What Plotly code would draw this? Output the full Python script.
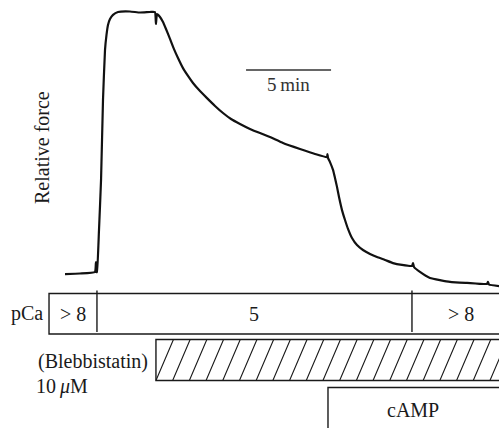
import plotly.graph_objects as go

# ---------------- data ----------------
# force trace (time in minutes, relative force 0..1)
time_min = [0.00, 0.88, 1.76, 1.82, 1.85, 1.88, 2.00, 2.12, 2.235, 2.353, 2.441, 2.529,
            2.647, 2.824, 3.118, 3.82, 4.41, 5.00, 5.29, 5.35, 5.41, 5.588, 5.765,
            5.941, 6.176, 6.412, 6.647, 6.941, 7.235, 7.529, 7.941, 8.353, 8.824,
            9.294, 9.765, 10.294, 10.882, 11.471, 12.059, 12.824, 13.824, 14.706,
            15.412, 15.44, 15.47, 15.588, 15.765, 15.882, 16.0, 16.118, 16.294,
            16.471, 16.647, 16.882, 17.176, 17.529, 17.941, 18.353, 18.824, 19.294,
            19.824, 20.412, 20.47, 20.53, 20.88, 21.47, 22.65, 23.65, 24.82, 24.88,
            24.94, 25.53]
force_rel = [-0.004, -0.002, 0.004, 0.042, 0.004, 0.004, 0.165, 0.356, 0.663, 0.854,
             0.912, 0.950, 0.973, 0.989, 1.000, 1.002, 0.998, 1.000, 1.000, 0.954,
             0.992, 0.981, 0.962, 0.935, 0.897, 0.858, 0.824, 0.785, 0.755, 0.728,
             0.697, 0.670, 0.640, 0.613, 0.590, 0.571, 0.552, 0.536, 0.521, 0.498,
             0.475, 0.456, 0.444, 0.456, 0.441, 0.425, 0.395, 0.364, 0.330, 0.291,
             0.241, 0.203, 0.169, 0.134, 0.107, 0.088, 0.073, 0.061, 0.050, 0.038,
             0.031, 0.027, 0.038, 0.023, 0.004, -0.019, -0.034, -0.038, -0.042,
             -0.034, -0.044, -0.050]

# protocol (minutes)
pca_starts = [-0.94, 1.88, 20.41]
pca_ends = [1.88, 20.41, 26.18]
pca_labels = ["> 8", "5", "> 8"]
bleb_start = 5.35
bleb_end = 26.5
camp_start = 15.47
camp_end = 26.5
scale_bar_start = 10.65
scale_bar_len = 5.0

# ---------------- layout helpers ----------------
W, H = 499, 428
PX_PER_MIN = 17.0
X0_PX = 65.0
BASE_PX, TOP_PX = 273.0, 12.0
F_PER_PX = 1.0 / (BASE_PX - TOP_PX)


def py(px):  # pixel row -> paper y
    return 1 - px / H


def pxx(px):  # pixel column -> minutes
    return (px - X0_PX) / PX_PER_MIN


FONT = "Liberation Serif"
INK = "#1a1a1a"

fig = go.Figure()
fig.add_trace(go.Scatter(x=time_min, y=force_rel, mode="lines",
                         line=dict(color="#111111", width=2.2, shape="spline", smoothing=0.4),
                         hoverinfo="skip", showlegend=False))

shapes = []
annos = []

# scale bar
shapes.append(dict(type="line", xref="x", yref="paper",
                   x0=scale_bar_start, x1=scale_bar_start + scale_bar_len,
                   y0=py(70), y1=py(70), line=dict(color="#333333", width=1.6)))
annos.append(dict(x=scale_bar_start + scale_bar_len / 2, y=py(84), xref="x", yref="paper",
                  text="5\u2009min", showarrow=False, font=dict(size=19, family=FONT, color="#333333"),
                  xanchor="center", yanchor="middle"))

# pCa row
PCA_TOP, PCA_BOT = 293.5, 334.0
shapes.append(dict(type="rect", xref="x", yref="paper", x0=pca_starts[0], x1=pca_ends[-1],
                   y0=py(PCA_BOT), y1=py(PCA_TOP), line=dict(color=INK, width=1.4),
                   fillcolor="rgba(0,0,0,0)"))
for s in pca_starts[1:]:
    shapes.append(dict(type="line", xref="x", yref="paper", x0=s, x1=s,
                       y0=py(332), y1=py(290.5), line=dict(color=INK, width=1.4)))
for s, e, lab in zip(pca_starts, pca_ends, pca_labels):
    annos.append(dict(x=(s + e) / 2, y=py(313.5), xref="x", yref="paper", text=lab,
                      showarrow=False, font=dict(size=20, family=FONT, color=INK),
                      xanchor="center", yanchor="middle"))
annos.append(dict(x=pxx(45), y=py(313.5), xref="x", yref="paper", text="pCa",
                  showarrow=False, font=dict(size=20, family=FONT, color=INK),
                  xanchor="right", yanchor="middle"))

# Blebbistatin hatched row
B_TOP, B_BOT = 339.5, 380.5
shapes.append(dict(type="rect", xref="x", yref="paper", x0=bleb_start, x1=bleb_end,
                   y0=py(B_BOT), y1=py(B_TOP), line=dict(color=INK, width=1.4),
                   fillcolor="rgba(0,0,0,0)"))
hatch_dx = 17.5 / PX_PER_MIN
hatch_step = 16.7 / PX_PER_MIN
path = []
xb = bleb_start
while xb < bleb_end:
    path.append(f"M{xb:.4f},{py(B_BOT):.5f} L{xb + hatch_dx:.4f},{py(B_TOP):.5f}")
    xb += hatch_step
shapes.append(dict(type="path", xref="x", yref="paper", path=" ".join(path),
                   line=dict(color=INK, width=1.1)))
annos.append(dict(x=pxx(150), y=py(361), xref="x", yref="paper", text="(Blebbistatin)",
                  showarrow=False, font=dict(size=20, family=FONT, color=INK),
                  xanchor="right", yanchor="middle"))
annos.append(dict(x=pxx(34), y=py(386), xref="x", yref="paper", text="10\u2009<i>\u03bc</i>M",
                  showarrow=False, font=dict(size=20, family=FONT, color=INK),
                  xanchor="left", yanchor="middle"))

# cAMP row
C_TOP = 387.5
shapes.append(dict(type="rect", xref="x", yref="paper", x0=camp_start, x1=camp_end,
                   y0=py(440), y1=py(C_TOP), line=dict(color=INK, width=1.4),
                   fillcolor="rgba(0,0,0,0)"))
annos.append(dict(x=pxx(413), y=py(410), xref="x", yref="paper", text="cAMP",
                  showarrow=False, font=dict(size=20, family=FONT, color=INK),
                  xanchor="center", yanchor="middle"))

# y label
annos.append(dict(x=pxx(42), y=py(148), xref="x", yref="paper", text="Relative force",
                  textangle=-90, showarrow=False, font=dict(size=20, family=FONT, color=INK),
                  xanchor="center", yanchor="middle"))

fig.update_layout(
    width=W, height=H, autosize=False,
    margin=dict(l=0, r=0, t=0, b=0, pad=0),
    paper_bgcolor="white", plot_bgcolor="white",
    xaxis=dict(range=[pxx(0), pxx(W)], visible=False, fixedrange=True),
    yaxis=dict(range=[(BASE_PX - H) * F_PER_PX, BASE_PX * F_PER_PX], visible=False,
               fixedrange=True),
    shapes=shapes, annotations=annos, showlegend=False,
)

fig.write_html("out.html", config={"displayModeBar": False},
               post_script="document.body.style.margin='0';")
